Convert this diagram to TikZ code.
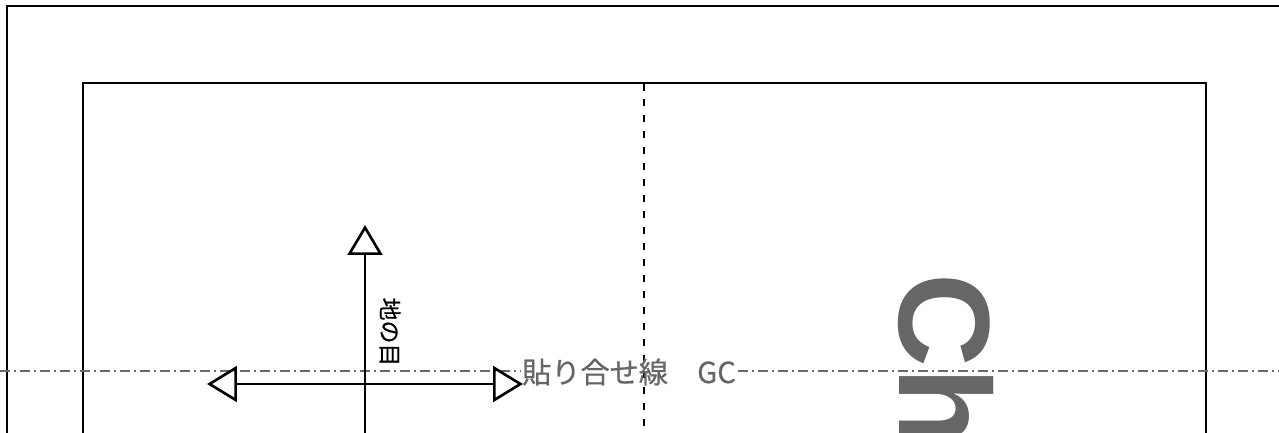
\documentclass[tikz,border=0pt]{standalone}
\usepackage{fontspec}
\setmainfont{Liberation Sans}
\newfontfamily\jpfont[FakeBold=0.6]{Noto Sans CJK JP}
\usetikzlibrary{arrows.meta,positioning}
\definecolor{seamgray}{HTML}{6A6A6A}
\definecolor{markgray}{HTML}{666666}
\tikzset{
	x=0.02cm, y=-0.02cm,
	frame/.style={draw=black, line width=1.5pt},
	foldline/.style={draw=black, line width=1.5pt, dash pattern=on 0.15cm off 0.17cm},
	seamline/.style={draw=seamgray, line width=1.3pt, dash pattern=on 0.2cm off 0.08cm on 0.04cm off 0.08cm},
	grainarrow/.style={draw=black, line width=1.5pt, {Triangle[open,length=0.6cm,width=0.72cm]}-{Triangle[open,length=0.6cm,width=0.72cm]}},
	grainup/.style={draw=black, line width=1.5pt, -{Triangle[open,length=0.6cm,width=0.7cm]}},
}

\begin{document}
\begin{tikzpicture}
        \clip (0,0) rectangle (1279,433);
        % frames
        \draw[frame] (7,440) -- (7,6) -- (1290,6);
        \draw[frame] (83,440) -- (83,83) -- (1206,83) -- (1206,440);
        \coordinate (foldtop) at (644,83);
        \coordinate (foldbot) at (644,440);
        \draw[foldline] (foldtop) -- (foldbot);
        % labels
        \node[rotate=-90, anchor=base west, inner sep=0pt, text=markgray,
              font=\fontsize{74}{74}\selectfont\bfseries] (mark) at (899,273) {Ch};
        \node[rotate=-90, inner sep=0pt, font=\jpfont\fontsize{13}{13}\selectfont] (grain) at (390,332) {地の目};
        \node[inner sep=1pt, text=markgray, font=\jpfont\fontsize{16.6}{16.6}\selectfont] (seam) at (629,372) {貼り合せ線　GC};
        % seam line
        \coordinate (seamL) at (0,371);
        \coordinate (seamR) at (1290,371);
        \draw[seamline] (seamL) -- (seam.west |- seamL);
        \draw[seamline] (seam.east |- seamR) -- (seamR);
        % grain arrows
        \coordinate (vbot) at (365,440);
        \coordinate (vtop) at (365,225);
        \coordinate (hleft) at (207,384);
        \coordinate (hright) at (523,384);
        \draw[grainup] (vbot) -- (vtop);
        \draw[grainarrow] (hleft) -- (hright);
      \end{tikzpicture}
\end{document}
